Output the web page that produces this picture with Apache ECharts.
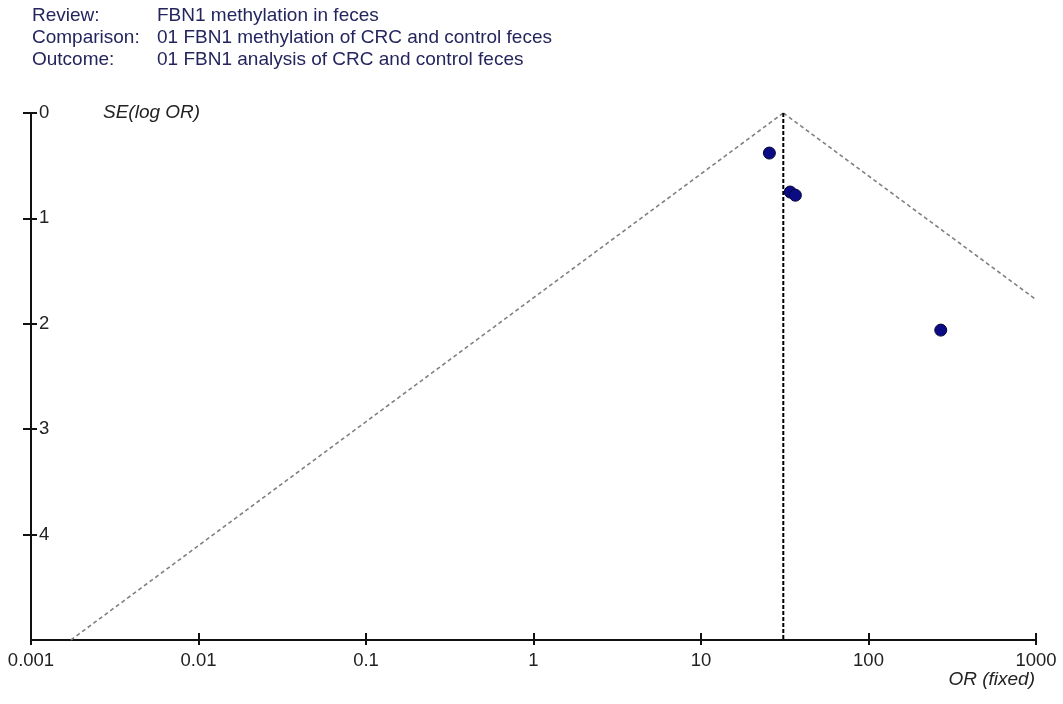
<!DOCTYPE html>
<html>
<head>
<meta charset="utf-8">
<script src="https://cdn.jsdelivr.net/npm/echarts@6/dist/echarts.min.js"></script>
<style>html,body{margin:0;padding:0;background:#fff}#c{width:1063px;height:704px}</style>
</head>
<body>
<div id="c"></div>
<script>
// Data
var studyOR = [25.6, 34.1, 36.6, 270];
var studySE = [0.38, 0.75, 0.78, 2.06];
var pooledOR = 31.0;
var funnelLeft = [[0.00173, 5.0], [31.0, 0]];
var funnelRight = [[31.0, 0], [1000, 1.77]];
var xTickLabels = ['0.001', '0.01', '0.1', '1', '10', '100', '1000'];
var yTickLabels = ['0', '1', '2', '3', '4'];
var headerKeys = ['Review:', 'Comparison:', 'Outcome:'];
var headerValues = ['FBN1 methylation in feces', '01 FBN1 methylation of CRC and control feces', '01 FBN1 analysis of CRC and control feces'];

var chart = echarts.init(document.getElementById('c'));
var pts = studyOR.map(function (v, i) { return [v, studySE[i]]; });
var font = 'Arial, "Liberation Sans", sans-serif';
var headerColor = '#25255e';

var graphics = [];
headerKeys.forEach(function (k, i) {
  graphics.push({ type: 'text', x: 32, y: 16 + i * 22, style: { text: k, fill: headerColor, font: '19px ' + font, verticalAlign: 'middle' } });
  graphics.push({ type: 'text', x: 157, y: 16 + i * 22, style: { text: headerValues[i], fill: headerColor, font: '19px ' + font, verticalAlign: 'middle' } });
});
graphics.push({ type: 'text', x: 103, y: 113, style: { text: 'SE(log OR)', fill: '#222', font: 'italic 19px ' + font, verticalAlign: 'middle' } });
graphics.push({ type: 'text', x: 1035, y: 680, style: { text: 'OR (fixed)', fill: '#222', font: 'italic 19px ' + font, verticalAlign: 'middle', align: 'right' } });

function xFmt(v) { var i = Math.round(Math.log10(v)) + 3; return xTickLabels[i] !== undefined ? xTickLabels[i] : ''; }
function yFmt(v) { return yTickLabels[v] !== undefined ? yTickLabels[v] : ''; }

chart.setOption({
  animation: false,
  backgroundColor: '#fff',
  graphic: graphics,
  grid: { left: 31, right: 27, top: 113, bottom: 64, containLabel: false },
  xAxis: [
    { type: 'log', logBase: 10, min: 0.001, max: 1000, position: 'bottom',
      axisLine: { onZero: false, lineStyle: { color: '#111', width: 2 } },
      axisTick: { show: true, inside: false, length: 5, lineStyle: { color: '#111', width: 2 } },
      minorTick: { show: false }, splitLine: { show: false },
      axisLabel: { formatter: xFmt, color: '#222', fontSize: 18.5, fontFamily: font, margin: 11, showMinLabel: true, showMaxLabel: true } },
    { type: 'log', logBase: 10, min: 0.001, max: 1000, position: 'bottom',
      axisLine: { show: false, onZero: false },
      axisTick: { show: true, inside: true, length: 7, lineStyle: { color: '#111', width: 2 } },
      splitLine: { show: false }, axisLabel: { show: false } }
  ],
  yAxis: [
    { type: 'value', inverse: true, min: 0, max: 5, interval: 1, position: 'left',
      axisLine: { show: true, onZero: false, lineStyle: { color: '#111', width: 2 } },
      axisTick: { show: true, inside: false, length: 8, customValues: [0, 1, 2, 3, 4], lineStyle: { color: '#111', width: 2 } },
      splitLine: { show: false },
      axisLabel: { inside: true, formatter: yFmt, color: '#222', fontSize: 18.5, fontFamily: font, margin: 8 } },
    { type: 'value', inverse: true, min: 0, max: 5, interval: 1, position: 'left',
      axisLine: { show: false, onZero: false },
      axisTick: { show: true, inside: true, length: 6, customValues: [0, 1, 2, 3, 4], lineStyle: { color: '#111', width: 2 } },
      splitLine: { show: false }, axisLabel: { show: false } }
  ],
  series: [
    { type: 'line', data: funnelLeft, symbol: 'none', silent: true,
      lineStyle: { color: '#808080', width: 1.6, type: [4, 3] } },
    { type: 'line', data: funnelRight, symbol: 'none', silent: true,
      lineStyle: { color: '#808080', width: 1.6, type: [4, 3] } },
    { type: 'line', data: [[pooledOR, 0], [pooledOR, 5]], symbol: 'none', silent: true,
      lineStyle: { color: '#000', width: 2, type: [4, 2] } },
    { type: 'scatter', data: pts, symbol: 'circle', symbolSize: 12,
      itemStyle: { color: '#0b0b85', borderColor: '#05053a', borderWidth: 1, opacity: 1 }, z: 5 }
  ]
});
</script>
</body>
</html>
